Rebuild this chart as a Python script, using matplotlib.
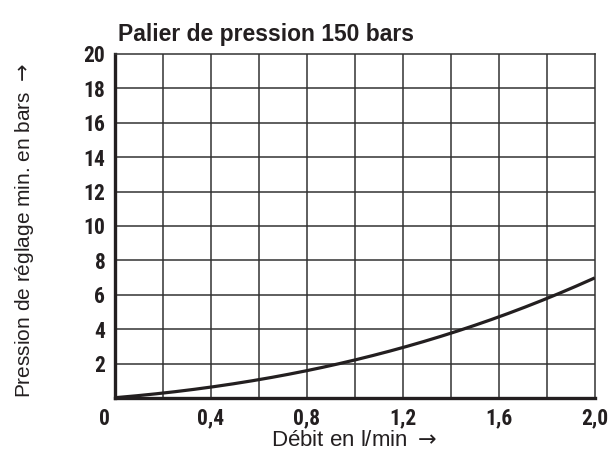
import numpy as np
import matplotlib
matplotlib.use("Agg")
import matplotlib.pyplot as plt

# --- data ---
debit = [0.0, 0.2, 0.4, 0.6, 0.8, 1.0, 1.2, 1.4, 1.6, 1.8, 2.0]          # l/min
pression = [0.0, 0.29, 0.69, 1.08, 1.57, 2.2, 2.9, 3.76, 4.75, 5.85, 6.94]  # bars

x_ticks = [0.4, 0.8, 1.2, 1.6, 2.0]
x_labels = ["0,4", "0,8", "1,2", "1,6", "2,0"]
y_ticks = [2, 4, 6, 8, 10, 12, 14, 16, 18, 20]
y_labels = [str(v) for v in y_ticks]

title = "Palier de pression 150 bars"
xlabel = r"Débit en l/min $\rightarrow$"
ylabel = r"Pression de réglage min. en bars $\rightarrow$"

TICK_FONT = ["Roboto Condensed", "Liberation Sans", "DejaVu Sans"]
TEXT_FONT = ["Liberation Sans", "DejaVu Sans"]
INK = "#231f20"

fig = plt.figure(figsize=(6.12, 4.57), dpi=100)
ax = fig.add_axes([0.188, 0.129, 0.784, 0.753])

# grid every 0.2 / 2
for xv in np.arange(0.2, 2.0, 0.2):
    ax.axvline(xv, color="#333333", lw=1.1, zorder=1)
for yv in range(2, 20, 2):
    ax.axhline(yv, color="#333333", lw=1.1, zorder=1)

# smooth curve through read points
xs = np.linspace(0, 2.0, 200)
coef = np.polyfit(debit, pression, 3)
ys = np.polyval(coef, xs)
ys[0] = 0.0
ax.plot(xs, ys, color=INK, lw=2.3, solid_capstyle="butt", zorder=3)

ax.set_xlim(0, 2.0)
ax.set_ylim(0, 20)

ax.set_xticks(x_ticks)
ax.set_xticklabels(x_labels)
ax.set_yticks(y_ticks)
ax.set_yticklabels(y_labels)
ax.tick_params(length=0, pad=7, labelsize=15.5, colors=INK)
for lbl in ax.get_xticklabels() + ax.get_yticklabels():
    lbl.set_fontfamily(TICK_FONT)
    lbl.set_fontweight("bold")

# origin label
ax.annotate("0", xy=(0, 0), xycoords="data", xytext=(-8, -7),
            textcoords="offset points", ha="center", va="top",
            fontsize=15.5, fontweight="bold", family=TICK_FONT, color=INK)

for side in ["left", "bottom"]:
    ax.spines[side].set_linewidth(2.4)
    ax.spines[side].set_color(INK)
for side in ["top", "right"]:
    ax.spines[side].set_linewidth(1.1)
    ax.spines[side].set_color("#333333")

fig.text(0.193, 0.925, title, ha="left", va="center", fontsize=16.5,
         fontweight="bold", family=TEXT_FONT, color=INK)
fig.text(0.578, 0.037, xlabel, ha="center", va="center", fontsize=16,
         family=TEXT_FONT, color=INK)
fig.text(0.04, 0.495, ylabel, ha="center", va="center", rotation=90,
         fontsize=15, family=TEXT_FONT, color=INK)

fig.savefig("out.png", dpi=100)
